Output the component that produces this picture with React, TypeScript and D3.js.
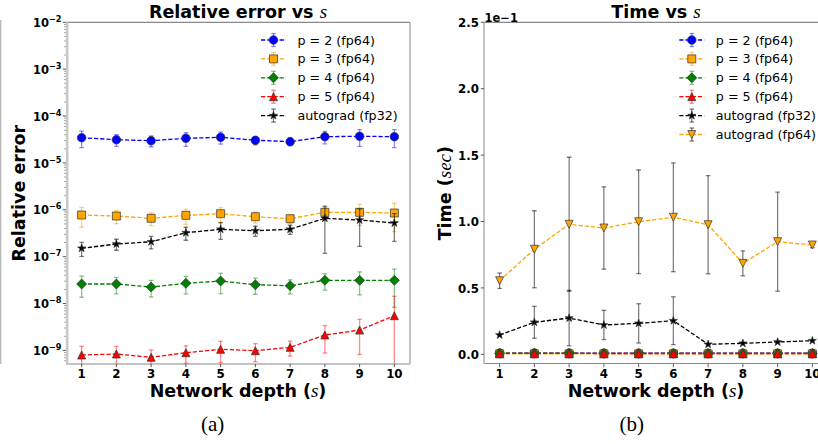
import React from 'react';
import * as d3 from 'd3';

const W = 818;
const H = 444;

const depths = [1, 2, 3, 4, 5, 6, 7, 8, 9, 10];

// ---- Panel (a): relative error vs s ----
const errP2 = [3.45e-5, 3.13e-5, 2.98e-5, 3.35e-5, 3.52e-5, 3.04e-5, 2.84e-5, 3.63e-5, 3.7e-5, 3.63e-5];
const errP2Std = [1.33e-5, 0.87e-5, 0.77e-5, 1.1e-5, 1.0e-5, 0.6e-5, 0.5e-5, 1.08e-5, 1.45e-5, 1.5e-5];
const errP3 = [7.74e-7, 7.36e-7, 6.58e-7, 7.62e-7, 8.24e-7, 7.11e-7, 6.45e-7, 8.83e-7, 8.83e-7, 8.53e-7];
const errP3Std = [3.5e-7, 2.3e-7, 2.0e-7, 2.7e-7, 2.9e-7, 1.9e-7, 1.3e-7, 2.5e-7, 4.2e-7, 5.1e-7];
const errP4 = [2.61e-8, 2.61e-8, 2.25e-8, 2.7e-8, 3.02e-8, 2.52e-8, 2.4e-8, 3.13e-8, 3.13e-8, 3.13e-8];
const errP4Std = [1.25e-8, 1.0e-8, 0.87e-8, 1.1e-8, 1.4e-8, 0.95e-8, 0.8e-8, 1.2e-8, 1.6e-8, 2.3e-8];
const errP5 = [7.98e-10, 8.38e-10, 7.13e-10, 8.93e-10, 1.055e-9, 9.85e-10, 1.164e-9, 2.13e-9, 2.72e-9, 5.5e-9];
const errP5Std = [4.2e-10, 3.8e-10, 3.1e-10, 3.6e-10, 5.1e-10, 4.1e-10, 4.1e-10, 1.25e-9, 1.9e-9, 8.8e-9];
const errAuto32 = [1.51e-7, 1.86e-7, 2.08e-7, 3.24e-7, 3.84e-7, 3.58e-7, 3.84e-7, 6.58e-7, 6.05e-7, 5.22e-7];
const errAuto32Std = [5e-8, 4.9e-8, 6.2e-8, 1.0e-7, 1.5e-7, 8.7e-8, 8.4e-8, 5.4e-7, 4.4e-7, 3.1e-7];
const errDecades = [-9, -8, -7, -6, -5, -4, -3, -2];

// ---- Panel (b): time vs s (seconds) ----
const timeP2 = [0.0009, 0.0009, 0.0009, 0.0008, 0.0008, 0.0008, 0.0008, 0.0008, 0.0008, 0.0008];
const timeP3 = [0.0003, 0.0003, 0.0003, 0.0003, 0.0003, 0.0003, 0.0003, 0.0003, 0.0003, 0.0003];
const timeP4 = [0.0008, 0.0008, 0.0008, 0.0007, 0.0007, 0.0007, 0.0007, 0.0007, 0.0007, 0.0007];
const timeP5 = [0.0007, 0.0007, 0.0007, 0.0006, 0.0006, 0.0006, 0.0006, 0.0006, 0.0006, 0.0006];
const timeSmallStd = [0.0001, 0.0001, 0.0001, 0.0001, 0.0001, 0.0001, 0.0001, 0.0001, 0.0001, 0.0001];
const timeAuto32 = [0.01453, 0.0241, 0.0273, 0.0221, 0.0233, 0.0253, 0.00753, 0.00828, 0.00926, 0.01024];
const timeAuto32Std = [0.0005, 0.012, 0.0209, 0.011, 0.0148, 0.018, 0.0003, 0.0003, 0.0003, 0.0003];
const timeAuto64 = [0.0554, 0.0791, 0.0979, 0.0951, 0.0998, 0.1032, 0.0976, 0.0685, 0.0848, 0.0823];
const timeAuto64Std = [0.0058, 0.029, 0.0505, 0.031, 0.039, 0.041, 0.037, 0.0094, 0.0373, 0.002];
const timeTicks = [0, 0.05, 0.1, 0.15, 0.2, 0.25];

const labelsA = ['p = 2 (fp64)', 'p = 3 (fp64)', 'p = 4 (fp64)', 'p = 5 (fp64)', 'autograd (fp32)'];
const labelsB = ['p = 2 (fp64)', 'p = 3 (fp64)', 'p = 4 (fp64)', 'p = 5 (fp64)', 'autograd (fp32)', 'autograd (fp64)'];

// ---- marker symbols ----
const triUp: d3.SymbolType = {
  draw(ctx, size) {
    const r = Math.sqrt(size) / 2;
    ctx.moveTo(0, -r);
    ctx.lineTo(r, r);
    ctx.lineTo(-r, r);
    ctx.closePath();
  },
};
const triDown: d3.SymbolType = {
  draw(ctx, size) {
    const r = Math.sqrt(size) / 2;
    ctx.moveTo(0, r);
    ctx.lineTo(r, -r);
    ctx.lineTo(-r, -r);
    ctx.closePath();
  },
};
const diamond: d3.SymbolType = {
  draw(ctx, size) {
    const r = Math.sqrt(size) / 2;
    ctx.moveTo(0, -r);
    ctx.lineTo(r, 0);
    ctx.lineTo(0, r);
    ctx.lineTo(-r, 0);
    ctx.closePath();
  },
};
const star: d3.SymbolType = {
  draw(ctx, size) {
    const R = Math.sqrt(size) / 2;
    const r = R * 0.382;
    for (let i = 0; i < 10; i++) {
      const a = -Math.PI / 2 + (i * Math.PI) / 5;
      const rad = i % 2 === 0 ? R : r;
      const px = Math.cos(a) * rad;
      const py = Math.sin(a) * rad;
      if (i === 0) ctx.moveTo(px, py);
      else ctx.lineTo(px, py);
    }
    ctx.closePath();
  },
};

type SeriesCfg = {
  values: number[];
  std: number[];
  color: string;
  sym: d3.SymbolType;
  size: number;
  ecolor: string;
  eop: number;
};

const seriesA: SeriesCfg[] = [
  { values: errP2, std: errP2Std, color: '#0000ff', sym: d3.symbolCircle, size: 58, ecolor: '#0000ff', eop: 0.45 },
  { values: errP3, std: errP3Std, color: '#ffa500', sym: d3.symbolSquare, size: 64, ecolor: '#ffa500', eop: 0.5 },
  { values: errP4, std: errP4Std, color: '#008000', sym: diamond, size: 100, ecolor: '#008000', eop: 0.45 },
  { values: errP5, std: errP5Std, color: '#ff0000', sym: triUp, size: 64, ecolor: '#ff0000', eop: 0.45 },
  { values: errAuto32, std: errAuto32Std, color: '#000000', sym: star, size: 72, ecolor: '#000000', eop: 0.5 },
];

const seriesB: SeriesCfg[] = [
  { values: timeP2, std: timeSmallStd, color: '#0000ff', sym: d3.symbolCircle, size: 58, ecolor: '#0000ff', eop: 0.45 },
  { values: timeP3, std: timeSmallStd, color: '#ffa500', sym: d3.symbolSquare, size: 64, ecolor: '#ffa500', eop: 0.5 },
  { values: timeP4, std: timeSmallStd, color: '#008000', sym: diamond, size: 100, ecolor: '#008000', eop: 0.45 },
  { values: timeP5, std: timeSmallStd, color: '#ff0000', sym: triUp, size: 64, ecolor: '#ff0000', eop: 0.45 },
  { values: timeAuto32, std: timeAuto32Std, color: '#000000', sym: star, size: 72, ecolor: '#000000', eop: 0.5 },
  { values: timeAuto64, std: timeAuto64Std, color: '#ffa500', sym: triDown, size: 64, ecolor: '#000000', eop: 0.5 },
];

const SANS = 'DejaVu Sans, sans-serif';
const SERIF = 'Liberation Serif, Times New Roman, serif';

function Series({ s, x, y, bottom }: { s: SeriesCfg; x: (v: number) => number; y: (v: number) => number; bottom: number }) {
  const line = d3
    .line<number>()
    .x((_, i) => x(depths[i]))
    .y((v) => y(v));
  const path = d3.symbol().type(s.sym).size(s.size)() || '';
  return (
    <g>
      {s.values.map((v, i) => {
        const cx = x(depths[i]);
        const lo = v - s.std[i];
        const yTop = y(v + s.std[i]);
        const yBot = lo > 0 ? y(lo) : bottom + 20;
        return (
          <g key={i} stroke={s.ecolor} strokeOpacity={s.eop} strokeWidth={1.3}>
            <line x1={cx} x2={cx} y1={yTop} y2={yBot} />
            <line x1={cx - 2.3} x2={cx + 2.3} y1={yTop} y2={yTop} />
            <line x1={cx - 2.3} x2={cx + 2.3} y1={yBot} y2={yBot} />
          </g>
        );
      })}
      <path d={line(s.values) || ''} fill="none" stroke={s.color} strokeWidth={1.3} strokeDasharray="4.2,2" />
      {s.values.map((v, i) => (
        <path
          key={i}
          d={path}
          transform={`translate(${x(depths[i])},${y(v)})`}
          fill={s.color}
          stroke="#333"
          strokeOpacity={0.8}
          strokeWidth={0.9}
        />
      ))}
    </g>
  );
}

function Legend({ series, labels, x0, y0 }: { series: SeriesCfg[]; labels: string[]; x0: number; y0: number }) {
  const dy = 18.9;
  return (
    <g>
      {series.map((s, i) => {
        const cy = y0 + i * dy;
        const cx = x0 + 12.5;
        const path = d3.symbol().type(s.sym).size(s.size)() || '';
        return (
          <g key={i}>
            <line x1={x0} x2={x0 + 25} y1={cy} y2={cy} stroke={s.color} strokeWidth={1.3} strokeDasharray="4.2,2" />
            <g stroke={s.ecolor} strokeOpacity={s.eop} strokeWidth={1.3}>
              <line x1={cx} x2={cx} y1={cy - 6.5} y2={cy + 6.5} />
              <line x1={cx - 2.3} x2={cx + 2.3} y1={cy - 6.5} y2={cy - 6.5} />
              <line x1={cx - 2.3} x2={cx + 2.3} y1={cy + 6.5} y2={cy + 6.5} />
            </g>
            <path d={path} transform={`translate(${cx},${cy})`} fill={s.color} stroke="#333" strokeOpacity={0.8} strokeWidth={0.9} />
            <text x={x0 + 36.5} y={cy + 4.5} fontFamily={SANS} fontSize={12.7} fill="#000">
              {labels[i]}
            </text>
          </g>
        );
      })}
    </g>
  );
}

export default function App() {
  // Panel a
  const aL = 66, aR = 410, top = 22.3, bot = 364;
  const xA = d3.scaleLinear().domain([0.55, 10.45]).range([aL, aR]);
  const yA = d3.scaleLog().domain([Math.pow(10, -9.29), 1e-2]).range([bot, top]);
  // Panel b
  const bL = 484, bR = 828;
  const xB = d3.scaleLinear().domain([0.55, 10.45]).range([bL, bR]);
  const yB = d3.scaleLinear().domain([-0.0073, 0.25]).range([bot, top]);

  const minorA: number[] = [];
  for (let k = -10; k <= -3; k++) {
    for (let m = 2; m <= 9; m++) {
      const v = m * Math.pow(10, k);
      if (v > yA.domain()[0] && v < 1e-2) minorA.push(v);
    }
  }

  return (
    <svg width={W} height={H} style={{ position: 'absolute', left: 0, top: 0, background: '#fff' }}>
      <defs>
        <clipPath id="clipA">
          <rect x={aL} y={top} width={aR - aL} height={bot - top} />
        </clipPath>
        <clipPath id="clipB">
          <rect x={bL} y={top} width={bR - bL} height={bot - top} />
        </clipPath>
      </defs>
      <rect x={0} y={0} width={W} height={H} fill="#fff" />

      {/* stray left edge line */}
      <line x1={0.7} x2={0.7} y1={20} y2={bot} stroke="#bbb" strokeWidth={1.4} />

      {/* ===== Panel (a) ===== */}
      <g clipPath="url(#clipA)">
        {seriesA.map((s, i) => (
          <Series key={i} s={s} x={xA} y={yA} bottom={bot} />
        ))}
      </g>
      {/* spines */}
      <line x1={aL} x2={aR} y1={top} y2={top} stroke="#888" strokeWidth={1.2} />
      <line x1={aL} x2={aR} y1={bot} y2={bot} stroke="#888" strokeWidth={1.2} />
      <line x1={aR} x2={aR} y1={top} y2={bot} stroke="#aaa" strokeWidth={1.4} />
      <line x1={aL + 1.2} x2={aL + 1.2} y1={top} y2={bot} stroke="#c8c8c8" strokeWidth={2.6} />
      {/* y ticks */}
      {minorA.map((v, i) => (
        <line key={i} x1={aL - 1.8} x2={aL} y1={yA(v)} y2={yA(v)} stroke="#555" strokeWidth={0.6} />
      ))}
      {errDecades.map((k) => (
        <g key={k}>
          <line x1={aL - 3.2} x2={aL} y1={yA(Math.pow(10, k))} y2={yA(Math.pow(10, k))} stroke="#333" strokeWidth={0.8} />
          <text x={aL - 4.5} y={yA(Math.pow(10, k)) + 4.6} textAnchor="end" fontFamily={SANS} fontWeight="bold" fontSize={11.5}>
            10
            <tspan dy={-5} fontSize={8.2}>
              {'\u2212' + Math.abs(k)}
            </tspan>
          </text>
        </g>
      ))}
      {/* x ticks */}
      {depths.map((d) => (
        <g key={d}>
          <line x1={xA(d)} x2={xA(d)} y1={bot} y2={bot + 3.2} stroke="#333" strokeWidth={0.8} />
          <text x={xA(d)} y={377.7} textAnchor="middle" fontFamily={SANS} fontWeight="bold" fontSize={11.8}>
            {d}
          </text>
        </g>
      ))}
      <text x={(aL + aR) / 2} y={18.3} textAnchor="middle" fontFamily={SANS} fontWeight="bold" fontSize={17.5}>
        Relative error vs{' '}
        <tspan fontFamily={SERIF} fontStyle="italic" fontWeight="normal" fontSize={19}>
          s
        </tspan>
      </text>
      <text x={(aL + aR) / 2} y={397.3} textAnchor="middle" fontFamily={SANS} fontWeight="bold" fontSize={17.5}>
        Network depth (
        <tspan fontFamily={SERIF} fontStyle="italic" fontWeight="normal" fontSize={19}>
          s
        </tspan>
        )
      </text>
      <text transform={`translate(25,${(top + bot) / 2}) rotate(-90)`} textAnchor="middle" fontFamily={SANS} fontWeight="bold" fontSize={17.5}>
        Relative error
      </text>
      <Legend series={seriesA} labels={labelsA} x0={261} y0={40} />
      <text x={212.7} y={431} textAnchor="middle" fontFamily={SERIF} fontSize={21}>
        (a)
      </text>

      {/* ===== Panel (b) ===== */}
      <g clipPath="url(#clipB)">
        {seriesB.map((s, i) => (
          <Series key={i} s={s} x={xB} y={yB} bottom={bot} />
        ))}
      </g>
      <line x1={bL} x2={bR} y1={top} y2={top} stroke="#888" strokeWidth={1.2} />
      <line x1={bL} x2={bR} y1={bot - 0.5} y2={bot - 0.5} stroke="#888" strokeWidth={1.2} />
      <line x1={bL} x2={bL} y1={top} y2={bot} stroke="#aaa" strokeWidth={1.4} />
      {timeTicks.map((t) => (
        <g key={t}>
          <line x1={bL - 3.2} x2={bL} y1={yB(t)} y2={yB(t)} stroke="#333" strokeWidth={0.8} />
          <text x={bL - 5} y={yB(t) + 4.6} textAnchor="end" fontFamily={SANS} fontWeight="bold" fontSize={11.8}>
            {(t * 10).toFixed(1)}
          </text>
        </g>
      ))}
      <text x={bL + 0.5} y={21.5} fontFamily={SANS} fontWeight="bold" fontSize={11.5}>
        1e{'\u2212'}1
      </text>
      {depths.map((d) => (
        <g key={d}>
          <line x1={xB(d)} x2={xB(d)} y1={bot} y2={bot + 3.2} stroke="#333" strokeWidth={0.8} />
          <text x={xB(d)} y={377.7} textAnchor="middle" fontFamily={SANS} fontWeight="bold" fontSize={11.8}>
            {d}
          </text>
        </g>
      ))}
      <text x={656} y={18.3} textAnchor="middle" fontFamily={SANS} fontWeight="bold" fontSize={17.5}>
        Time vs{' '}
        <tspan fontFamily={SERIF} fontStyle="italic" fontWeight="normal" fontSize={19}>
          s
        </tspan>
      </text>
      <text x={656} y={397.3} textAnchor="middle" fontFamily={SANS} fontWeight="bold" fontSize={17.5}>
        Network depth (
        <tspan fontFamily={SERIF} fontStyle="italic" fontWeight="normal" fontSize={19}>
          s
        </tspan>
        )
      </text>
      <text transform={`translate(451,${(top + bot) / 2}) rotate(-90)`} textAnchor="middle" fontFamily={SANS} fontWeight="bold" fontSize={17.5}>
        Time (
        <tspan fontFamily={SERIF} fontStyle="italic" fontWeight="normal" fontSize={19}>
          sec
        </tspan>
        )
      </text>
      <Legend series={seriesB} labels={labelsB} x0={679.3} y0={40} />
      <text x={631.7} y={431} textAnchor="middle" fontFamily={SERIF} fontSize={21}>
        (b)
      </text>
    </svg>
  );
}
